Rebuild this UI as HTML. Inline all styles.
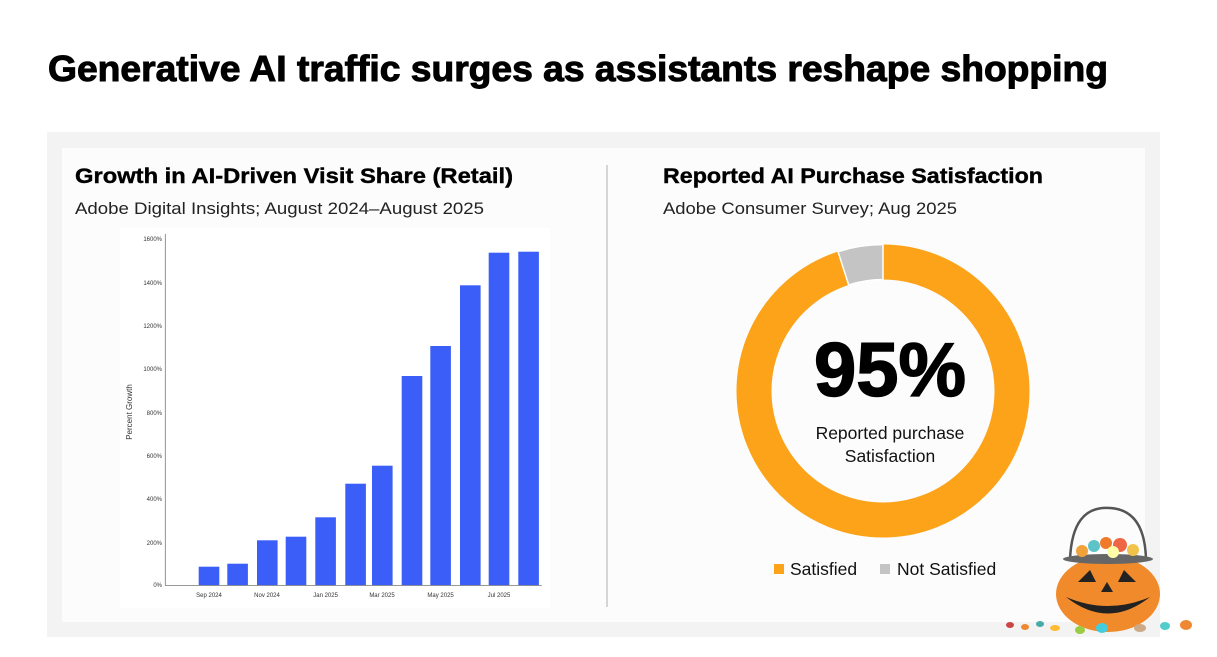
<!DOCTYPE html>
<html><head><meta charset="utf-8"><style>
html,body{margin:0;padding:0;background:#fff;}
svg{display:block;font-family:"Liberation Sans",sans-serif;}
</style></head><body>
<svg width="1217" height="657" viewBox="0 0 1217 657" xmlns="http://www.w3.org/2000/svg">
<rect width="1217" height="657" fill="#fff"/>
<text x="48" y="81" font-size="36" font-weight="bold" fill="#000" stroke="#000" stroke-width="1" textLength="1060" lengthAdjust="spacingAndGlyphs">Generative AI traffic surges as assistants reshape shopping</text>
<rect x="47" y="132" width="1113" height="505" fill="#f3f3f3"/>
<rect x="62" y="148" width="1083" height="474" fill="#fcfcfc"/>
<rect x="120" y="228" width="430" height="380" fill="#fff"/>
<line x1="607" y1="165" x2="607" y2="607" stroke="#c8c8c8" stroke-width="1.5"/>
<text x="75" y="183" font-size="21" font-weight="bold" stroke="#000" stroke-width="0.4" textLength="438" lengthAdjust="spacingAndGlyphs">Growth in AI-Driven Visit Share (Retail)</text>
<text x="75" y="214" font-size="17" fill="#222" textLength="409" lengthAdjust="spacingAndGlyphs">Adobe Digital Insights; August 2024–August 2025</text>
<text x="663" y="183" font-size="21" font-weight="bold" stroke="#000" stroke-width="0.4" textLength="380" lengthAdjust="spacingAndGlyphs">Reported AI Purchase Satisfaction</text>
<text x="663" y="214" font-size="17" fill="#222" textLength="294" lengthAdjust="spacingAndGlyphs">Adobe Consumer Survey; Aug 2025</text>
<g font-size="6" fill="#333" text-anchor="end">
<text x="162" y="587">0%</text><text x="162" y="545">200%</text><text x="162" y="501">400%</text><text x="162" y="458">600%</text><text x="162" y="415">800%</text><text x="162" y="371">1000%</text><text x="162" y="328">1200%</text><text x="162" y="285">1400%</text><text x="162" y="241">1600%</text>
</g>
<text transform="translate(132,412) rotate(-90)" font-size="8" fill="#333" text-anchor="middle">Percent Growth</text>
<g fill="#3b5ef8">
<rect x="198.7" y="566.7" width="20.6" height="18.6"/>
<rect x="227.3" y="563.7" width="20.6" height="21.6"/>
<rect x="257" y="540.3" width="20.6" height="45"/>
<rect x="285.7" y="536.7" width="20.6" height="48.6"/>
<rect x="315.3" y="517.3" width="20.6" height="68"/>
<rect x="345.3" y="483.7" width="20.6" height="101.6"/>
<rect x="372" y="465.7" width="20.6" height="119.6"/>
<rect x="401.7" y="376" width="20.6" height="209.3"/>
<rect x="430.3" y="346" width="20.6" height="239.3"/>
<rect x="460" y="285.3" width="20.6" height="300"/>
<rect x="488.7" y="252.7" width="20.6" height="332.6"/>
<rect x="518.3" y="251.7" width="20.6" height="333.6"/>
</g>
<line x1="165.3" y1="234" x2="165.3" y2="585.5" stroke="#777" stroke-width="0.8"/>
<line x1="165.3" y1="585.5" x2="541.7" y2="585.5" stroke="#777" stroke-width="0.8"/>
<g font-size="6" fill="#333" text-anchor="middle">
<text x="209" y="597">Sep 2024</text><text x="267" y="597">Nov 2024</text><text x="325.6" y="597">Jan 2025</text><text x="382" y="597">Mar 2025</text><text x="440.6" y="597">May 2025</text><text x="499" y="597">Jul 2025</text>
</g>
<circle cx="883" cy="391" r="129" fill="none" stroke="#fca31a" stroke-width="35"/>
<path d="M883 244.5 A146.5 146.5 0 0 0 838 251.6 L848.7 285 A111.5 111.5 0 0 1 883 279.5 Z" fill="#c4c4c4" stroke="#fff" stroke-width="1.5"/>
<text x="890" y="396" font-size="76" font-weight="bold" text-anchor="middle" stroke="#000" stroke-width="1.5" textLength="152" lengthAdjust="spacingAndGlyphs">95%</text>
<text x="890" y="439" font-size="17.5" text-anchor="middle" fill="#111">Reported purchase</text>
<text x="890" y="462" font-size="17.5" text-anchor="middle" fill="#111">Satisfaction</text>
<rect x="774" y="564" width="10" height="10" fill="#fca31a"/>
<text x="790" y="575" font-size="17.5" fill="#111">Satisfied</text>
<rect x="880" y="564" width="10" height="10" fill="#c4c4c4"/>
<text x="897" y="575" font-size="17.5" fill="#111">Not Satisfied</text>
<path d="M1070 560 Q1072 505 1110 508 Q1145 510 1146 560" fill="none" stroke="#555" stroke-width="2.5"/>
<ellipse cx="1108" cy="594" rx="52" ry="38" fill="#f08a2a"/>
<ellipse cx="1108" cy="559" rx="45" ry="5" fill="#666"/>
<g>
<circle cx="1082" cy="551" r="6" fill="#f2a23a"/><circle cx="1094" cy="546" r="6" fill="#5cc4c8"/><circle cx="1106" cy="543" r="6" fill="#f07a2a"/><circle cx="1120" cy="545" r="7" fill="#e64"/><circle cx="1133" cy="550" r="6" fill="#f1c34a"/><circle cx="1113" cy="552" r="6" fill="#ffa"/>
</g>
<g fill="#222">
<polygon points="1078,582 1090,570 1096,582"/><polygon points="1118,582 1124,570 1136,582"/><polygon points="1101,592 1107,582 1113,592"/>
<path d="M1066 597 Q1108 630 1150 597 Q1108 615 1066 597Z"/>
</g>
<g>
<ellipse cx="1010" cy="625" rx="4" ry="3" fill="#c44"/><ellipse cx="1025" cy="627" rx="4" ry="3" fill="#e83"/><ellipse cx="1040" cy="624" rx="4" ry="3" fill="#4aa"/><ellipse cx="1055" cy="628" rx="5" ry="3" fill="#fb3"/><ellipse cx="1080" cy="630" rx="5" ry="4" fill="#9c4"/><ellipse cx="1102" cy="628" rx="6" ry="5" fill="#4cd"/><ellipse cx="1140" cy="628" rx="6" ry="4" fill="#ca8"/><ellipse cx="1165" cy="626" rx="5" ry="4" fill="#5cc"/><ellipse cx="1186" cy="625" rx="6" ry="5" fill="#e83"/>
</g>
</svg>
</body></html>
